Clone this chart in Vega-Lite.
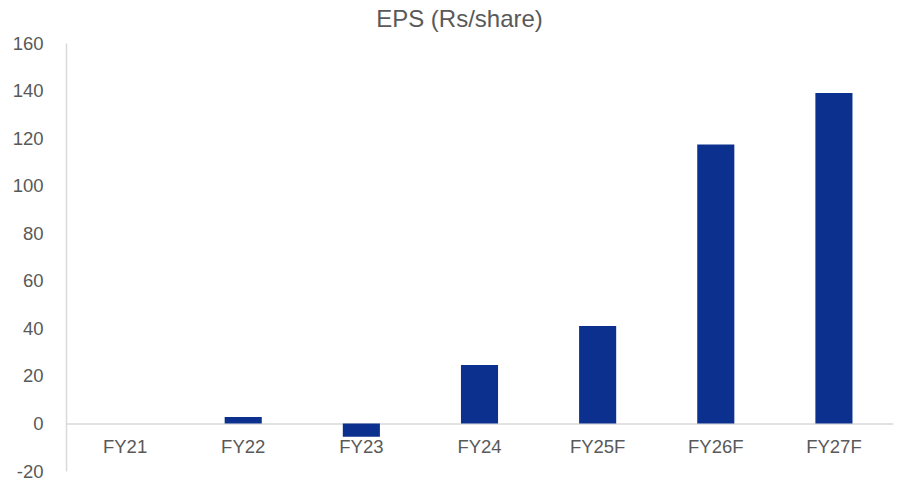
{
  "$schema": "https://vega.github.io/schema/vega-lite/v6.json",
  "autosize": {"type": "none"},
  "padding": {"left": 66, "top": 43, "right": 11, "bottom": 10},
  "width": 827,
  "height": 428,
  "background": "white",
  "title": {"text": "EPS (Rs/share)", "fontSize": 24, "font": "Liberation Sans", "fontWeight": "normal", "color": "#595959", "offset": 2, "anchor": "middle", "dx": -20},
  "data": {"values": [
    {"year": "FY21", "eps": 0},
    {"year": "FY22", "eps": 2.7},
    {"year": "FY23", "eps": -5.6},
    {"year": "FY24", "eps": 24.6},
    {"year": "FY25F", "eps": 41.0},
    {"year": "FY26F", "eps": 117.3},
    {"year": "FY27F", "eps": 139.0}
  ]},
  "mark": {"type": "bar", "color": "#0B308E"},
  "encoding": {
    "x": {"field": "year", "type": "nominal", "sort": null,
      "scale": {"paddingInner": 0.686, "paddingOuter": 0.343},
      "axis": {"title": null, "labelAngle": 0, "offset": -47.5, "ticks": false, "domainColor": "#D9D9D9", "domainWidth": 1.5, "labelFont": "Liberation Sans", "labelFontSize": 18.5, "labelColor": "#595959", "labelPadding": 14}},
    "y": {"field": "eps", "type": "quantitative",
      "scale": {"domain": [-20, 160], "nice": false, "zero": false},
      "axis": {"title": null, "values": [-20, 0, 20, 40, 60, 80, 100, 120, 140, 160], "labelExpr": "'' + datum.value", "grid": false, "ticks": false, "domainColor": "#D9D9D9", "domainWidth": 1.5, "labelFont": "Liberation Sans", "labelFontSize": 18.5, "labelColor": "#595959", "labelPadding": 23}}
  },
  "config": {"view": {"stroke": null}}
}
